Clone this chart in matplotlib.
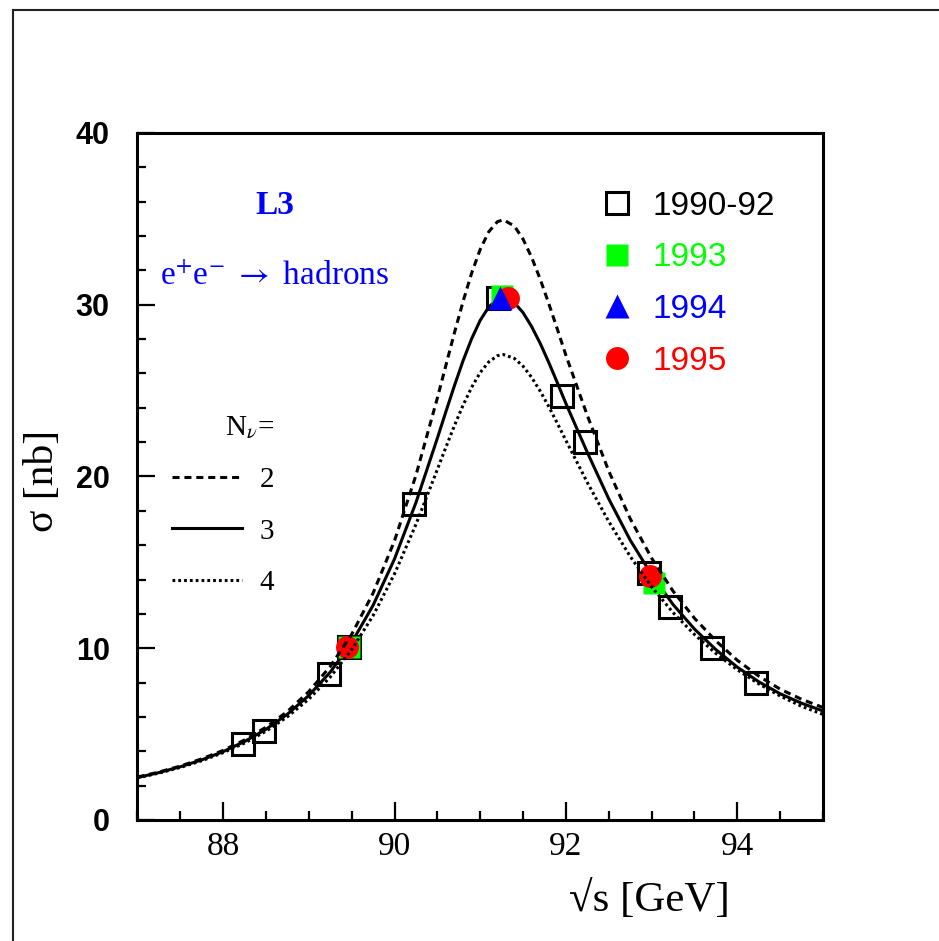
import matplotlib
matplotlib.use('Agg')
import matplotlib.pyplot as plt
from matplotlib.lines import Line2D
from matplotlib.ticker import MultipleLocator, FixedLocator

plt.rcParams['mathtext.fontset'] = 'stix'

# ---- theory curves (sqrt(s) in GeV, sigma in nb) ----
energy = [87.0, 87.25, 87.5, 87.75, 88.0, 88.25, 88.5, 88.75, 89.0, 89.25, 89.5,
          89.75, 90.0, 90.25, 90.5, 90.6, 90.7, 90.8, 90.9, 91.0, 91.1, 91.2,
          91.27, 91.4, 91.5, 91.6, 91.7, 91.8, 91.9, 92.0, 92.25, 92.5, 92.75,
          93.0, 93.25, 93.5, 93.75, 94.0, 94.25, 94.5, 94.75, 95.0]
sigma_nnu2 = [2.50, 2.79, 3.14, 3.56, 4.05, 4.66, 5.40, 6.32, 7.48, 8.94, 10.81,
              13.21, 16.26, 20.07, 24.57, 26.48, 28.38, 30.19, 31.84, 33.22, 34.25, 34.83,
              34.95, 34.57, 33.82, 32.76, 31.49, 30.07, 28.58, 27.06, 23.55, 20.32, 17.55,
              15.25, 13.33, 11.75, 10.43, 9.30, 8.38, 7.62, 7.03, 6.55]
sigma_nnu3 = [2.47, 2.76, 3.10, 3.50, 3.98, 4.57, 5.28, 6.16, 7.25, 8.61, 10.33,
              12.50, 15.20, 18.48, 22.23, 23.78, 25.30, 26.74, 28.02, 29.09, 29.87, 30.31,
              30.40, 30.11, 29.54, 28.73, 27.75, 26.64, 25.46, 24.25, 21.40, 18.70, 16.30,
              14.28, 12.55, 11.12, 9.92, 8.90, 8.05, 7.35, 6.80, 6.35]
sigma_nnu4 = [2.45, 2.73, 3.06, 3.45, 3.92, 4.48, 5.17, 6.01, 7.04, 8.32, 9.92,
              11.90, 14.33, 17.21, 20.41, 21.71, 22.97, 24.15, 25.19, 26.05, 26.67, 27.03,
              27.10, 26.87, 26.42, 25.77, 24.97, 24.07, 23.10, 22.10, 19.65, 17.38, 15.35,
              13.58, 12.08, 10.80, 9.70, 8.75, 7.93, 7.22, 6.62, 6.15]

# ---- measurements ----
e_1990_92 = [88.23, 88.48, 89.23, 89.47, 90.23, 91.21, 91.96, 92.22, 92.97, 93.22, 93.71, 94.22]
s_1990_92 = [4.4, 5.2, 8.5, 10.1, 18.4, 30.4, 24.7, 22.0, 14.4, 12.4, 10.0, 8.0]
e_1993 = [89.47, 91.26, 93.03]
s_1993 = [10.1, 30.5, 13.8]
e_1994 = [91.23]
s_1994 = [30.4]
e_1995 = [89.45, 91.32, 92.98]
s_1995 = [10.1, 30.4, 14.2]

x_ticks = [88, 90, 92, 94]
y_ticks = [0, 10, 20, 30, 40]
year_labels = ['1990-92', '1993', '1994', '1995']
nnu_labels = ['2', '3', '4']

GREEN = '#00ff00'
BLUE = '#0000ff'
RED = '#ff0000'
SERIF = ['Liberation Serif', 'DejaVu Serif']

fig = plt.figure(figsize=(9.39, 9.41), dpi=100)
ax = fig.add_axes([0.1464, 0.1286, 0.7300, 0.7301])

lw = 2.2
ax.plot(energy, sigma_nnu3, color='k', lw=lw, ls='-', zorder=2)
ax.plot(e_1990_92, s_1990_92, ls='none', marker='s', ms=16, mfc='none', mec='k', mew=2.2, zorder=3)
ax.plot(e_1993, s_1993, ls='none', marker='s', ms=16.5, mfc=GREEN, mec='none', zorder=4)
ax.plot(e_1995, s_1995, ls='none', marker='o', ms=16.5, mfc=RED, mec='none', zorder=5)
ax.plot(e_1994, s_1994, ls='none', marker='^', ms=17.5, mfc=BLUE, mec='none', zorder=6)
ax.plot(energy, sigma_nnu2, color='k', lw=lw, ls=(0, (2.3, 1.6)), zorder=7)
ax.plot(energy, sigma_nnu4, color='k', lw=lw, ls=(0, (0.9, 1.0)), zorder=7)

ax.set_xlim(87, 95)
ax.set_ylim(0, 40)
ax.xaxis.set_major_locator(FixedLocator(x_ticks))
ax.yaxis.set_major_locator(FixedLocator(y_ticks))
ax.xaxis.set_minor_locator(MultipleLocator(0.5))
ax.yaxis.set_minor_locator(MultipleLocator(2))
ax.set_xticklabels([str(v) for v in x_ticks], family=SERIF, fontsize=24)
ax.set_yticklabels([str(v) for v in y_ticks], family=['Liberation Sans Narrow', 'Liberation Sans'],
                   fontsize=22, fontweight='bold')
ax.tick_params(which='both', direction='in', top=False, right=False, width=1.6, color='k')
ax.tick_params(axis='x', which='major', length=13, pad=8)
ax.tick_params(axis='x', which='minor', length=6.5)
ax.tick_params(axis='y', which='major', length=13, pad=20)
ax.tick_params(axis='y', which='minor', length=6.5)
for sp in ax.spines.values():
    sp.set_linewidth(2.2)

ax.set_xlabel('\u221as [GeV]', family=SERIF, fontsize=31)
ax.xaxis.set_label_coords(0.7476, -0.087)
ax.set_ylabel('\u03c3 [nb]', family=SERIF, fontsize=30)
ax.yaxis.set_label_coords(-0.110, 0.493)

ax.text(0.2006, 0.895, 'L3', transform=ax.transAxes, color=BLUE, family=SERIF,
        fontsize=24, fontweight='bold', ha='center', va='center')
ax.text(0.0328, 0.7787, r'e$^{+}$e$^{-}$ $\rightarrow$ hadrons', transform=ax.transAxes, color=BLUE,
        family=SERIF, fontsize=24, ha='left', va='baseline')

h_years = [Line2D([], [], ls='none', marker='s', ms=16, mfc='none', mec='k', mew=2.2),
           Line2D([], [], ls='none', marker='s', ms=16.5, mfc=GREEN, mec='none'),
           Line2D([], [], ls='none', marker='^', ms=17.5, mfc=BLUE, mec='none'),
           Line2D([], [], ls='none', marker='o', ms=16.5, mfc=RED, mec='none')]
leg1 = ax.legend(h_years, year_labels, loc='upper left', bbox_to_anchor=(0.676, 0.916),
                 frameon=False, prop={'family': 'Liberation Sans', 'size': 24},
                 labelcolor=['k', GREEN, BLUE, RED], handlelength=0.95, handletextpad=0.6,
                 labelspacing=0.62, borderpad=0, borderaxespad=0)
ax.add_artist(leg1)

h_lines = [Line2D([], [], color='k', lw=lw, ls=(0, (2.3, 1.6))),
           Line2D([], [], color='k', lw=lw, ls='-'),
           Line2D([], [], color='k', lw=lw, ls=(0, (0.9, 1.0)))]
leg2 = ax.legend(h_lines, nnu_labels, loc='upper left', bbox_to_anchor=(0.0503, 0.589),
                 frameon=False, prop={'family': 'Liberation Serif', 'size': 21},
                 title='N$_{\\nu}$=', title_fontproperties={'family': 'Liberation Serif', 'size': 21},
                 handlelength=2.4, handletextpad=0.6, labelspacing=0.86, borderpad=0,
                 borderaxespad=0, alignment='right')

fx = 13 / 939
fy = 1 - 10 / 941
fig.add_artist(Line2D([fx, fx], [0, fy], transform=fig.transFigure, color='#222222', lw=1.5))
fig.add_artist(Line2D([fx, 1], [fy, fy], transform=fig.transFigure, color='#222222', lw=1.5))

fig.savefig('out.png', dpi=100)
